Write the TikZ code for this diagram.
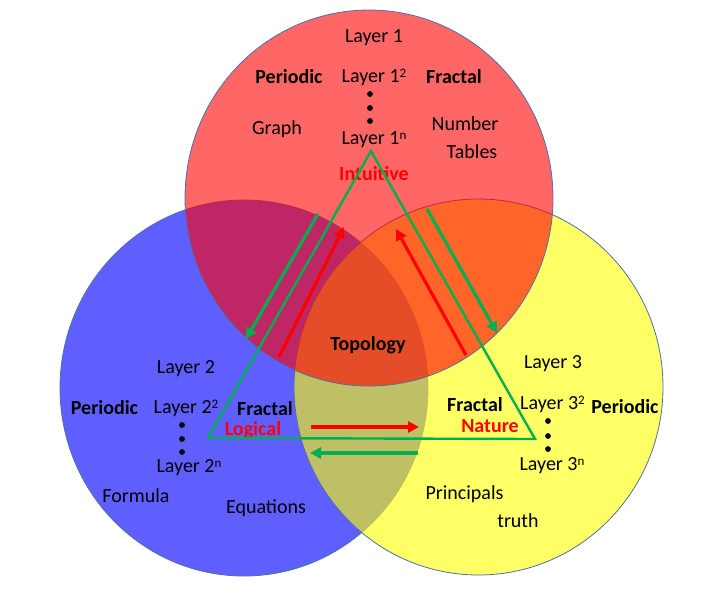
\documentclass[tikz,border=0pt]{standalone}
\usepackage{fontspec}
\setmainfont{Carlito}
\usetikzlibrary{arrows.meta}
\definecolor{cblue}{RGB}{95,95,255}
\definecolor{cyel}{RGB}{255,255,0}
\definecolor{cred}{RGB}{255,0,0}
\definecolor{cline}{RGB}{79,110,170}
\definecolor{cgreen}{RGB}{0,176,80}
\newcommand{\mysup}[1]{\raisebox{5pt}{\fontsize{13}{13}\selectfont #1}}
\begin{document}
\begin{tikzpicture}[x=1pt,y=-1pt,
  txt/.style={font=\fontsize{20}{22}\selectfont, inner sep=0pt, anchor=base},
  bld/.style={font=\fontsize{20}{22}\selectfont\bfseries, inner sep=0pt, anchor=base},
  redlbl/.style={bld, text=cred},
  setc/.style={draw=cline, line width=0.8pt},
  dotc/.style={circle, fill=black, inner sep=0pt, minimum size=5.8pt},
  grarrow/.style={draw=cgreen, line width=3.2pt, -{Triangle[length=11pt,width=11pt]}},
  rdarrow/.style={draw=cred, line width=3.2pt, -{Triangle[length=11pt,width=11pt]}},
  tri/.style={draw=cgreen, line width=2.4pt, line join=miter}]
\useasboundingbox (0,0) rectangle (722,598);
% circles
\path[setc, fill=cblue] (244,388) ellipse [x radius=184pt, y radius=188pt];
\path[setc, fill=cyel, fill opacity=0.6] (478.5,387) ellipse [x radius=184.5pt, y radius=188pt];
\path[setc, fill=cred, fill opacity=0.6] (369,198) ellipse [x radius=184pt, y radius=188pt];
% texts, top
\node[txt] (l1) at (374,42) {Layer 1};
\node[bld] (p1) at (289,83) {Periodic};
\node[txt] (l12) at (374,82) {Layer 1\mysup{2}};
\node[bld] (f1) at (454,83) {Fractal};
\node[dotc] (d11) at (370,94) {};
\node[dotc] (d12) at (370,108) {};
\node[dotc] (d13) at (370,121) {};
\node[txt] (gr) at (277,134) {Graph};
\node[txt] (l1n) at (374,144) {Layer 1\mysup{n}};
\node[txt] (num) at (465,130) {Number};
\node[txt] (tab) at (472,158) {Tables};
\node[redlbl] (int) at (374,180) {Intuitive};
\node[bld] (top) at (368,350) {Topology};
% left
\node[txt] (l2) at (186,373) {Layer 2};
\node[bld] (p2) at (104.5,414) {Periodic};
\node[txt] (l22) at (186,413) {Layer 2\mysup{2}};
\node[bld] (f2) at (265,415) {Fractal};
\node[redlbl] (log) at (253,435) {Logical};
\node[dotc] (d21) at (182,425) {};
\node[dotc] (d22) at (182,439) {};
\node[dotc] (d23) at (182,452) {};
\node[txt] (l2n) at (189,472) {Layer 2\mysup{n}};
\node[txt] (form) at (136,502) {Formula};
\node[txt] (eq) at (266,513) {Equations};
% right
\node[txt] (l3) at (553,368) {Layer 3};
\node[bld] (f3) at (475,411) {Fractal};
\node[txt] (l32) at (552.5,409) {Layer 3\mysup{2}};
\node[bld] (p3) at (625,413) {Periodic};
\node[redlbl] (nat) at (490,432) {Nature};
\node[dotc] (d31) at (548,421) {};
\node[dotc] (d32) at (548,436) {};
\node[dotc] (d33) at (548,449) {};
\node[txt] (l3n) at (552,470) {Layer 3\mysup{n}};
\node[txt] (pri) at (464.5,499) {Principals};
\node[txt] (tru) at (518,527) {truth};
% triangle
\coordinate (ta) at (371,151);
\coordinate (tl) at (208,438);
\coordinate (tr) at (535,439);
\draw[tri] (ta) -- (tl) -- (tr) -- cycle;
% arrows
\coordinate (ga1) at (318,214);
\coordinate (gb1) at (246,339);
\coordinate (ra1) at (279,357);
\coordinate (rb1) at (344,227);
\coordinate (ra2) at (466,355);
\coordinate (rb2) at (396,229);
\coordinate (ga2) at (427,209);
\coordinate (gb2) at (497,333);
\coordinate (ra3) at (311,427);
\coordinate (rb3) at (419,427);
\coordinate (ga3) at (418,453);
\coordinate (gb3) at (310,453);
\draw[grarrow] (ga1) -- (gb1);
\draw[rdarrow] (ra1) -- (rb1);
\draw[rdarrow] (ra2) -- (rb2);
\draw[grarrow] (ga2) -- (gb2);
\draw[rdarrow] (ra3) -- (rb3);
\draw[grarrow] (ga3) -- (gb3);
\end{tikzpicture}
\end{document}
